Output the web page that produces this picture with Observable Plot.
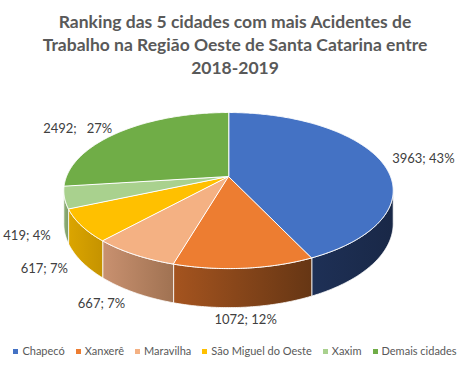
<!DOCTYPE html>
<html><head><meta charset="utf-8">
<script src="https://cdn.jsdelivr.net/npm/d3@7"></script>
<script src="https://cdn.jsdelivr.net/npm/@observablehq/plot@0.6"></script>
<style>
html,body{margin:0;padding:0;background:#fff;}
#wrap{position:relative;width:470px;height:368px;overflow:hidden;font-family:Lato,"Open Sans",sans-serif;}
#chart svg{position:absolute;left:0;top:0;}
#title{position:absolute;left:0;top:10px;width:470px;text-align:center;font-weight:700;font-size:17.5px;line-height:23px;color:#595959;}
#legend{position:absolute;left:0;top:343px;width:470px;display:flex;justify-content:center;gap:11px;font-size:11px;color:#595959;line-height:16px;white-space:nowrap;}
#legend span.sw{display:inline-block;width:5px;height:5px;margin-right:4px;vertical-align:middle;position:relative;top:-1px;}
</style></head>
<body><div id="wrap"><div id="chart"></div>
<div id="title">Ranking das 5 cidades com mais Acidentes de<br>Trabalho na Região Oeste de Santa Catarina entre<br>2018-2019</div>
<div id="legend"></div></div>
<script>
const cities = ["Chapecó", "Xanxerê", "Maravilha", "São Miguel do Oeste", "Xaxim", "Demais cidades"];
const values = [3963, 1072, 667, 617, 419, 2492];
const percents = ["43%", "12%", "7%", "7%", "4%", "27%"];
const separators = ["; ", "; ", "; ", "; ", "; ", "; \u00a0\u00a0"];
const topColors = ["#4472C4", "#ED7D31", "#F4B183", "#FFC000", "#A9D18E", "#70AD47"];
const wallLight = ["#1E3056", "#A5541F", "#C99170", "#DBA500", "#8FB077", "#5C8E3A"];
const wallDark  = ["#192847", "#663614", "#A07252", "#C59300", "#7E9D69", "#4F7B31"];

const P = 0.18;      // perspective
const H = 0.424;     // thickness (in radius units of y)
const proj = (t, r, dz = 0) => {
  const s = 1 / (1 - P * r * Math.sin(t));
  return [r * Math.cos(t) * s, r * Math.sin(t) * s + dz * s];
};
const arcs = d3.pie().sort(null)(values);
const T1 = Math.asin(P), T2 = Math.PI - Math.asin(P);
const step = Math.PI / 360;

const tops = [], walls = [], labels = [];
arcs.forEach((a, i) => {
  const a0 = a.startAngle - Math.PI / 2, a1 = a.endAngle - Math.PI / 2;
  tops.push({key: i, u: 0, v: 0, fill: topColors[i]});
  const n = Math.max(2, Math.ceil((a1 - a0) / step));
  for (let k = 0; k <= n; k++) {
    const [u, v] = proj(a0 + (a1 - a0) * k / n, 1);
    tops.push({key: i, u, v, fill: topColors[i]});
  }
  // front wall
  const w0 = Math.max(a0, T1), w1 = Math.min(a1, T2);
  if (w0 < w1) {
    const m = Math.max(2, Math.ceil((w1 - w0) / step));
    const pts = [];
    for (let k = 0; k <= m; k++) { const [u, v] = proj(w0 + (w1 - w0) * k / m, 1); pts.push({key: i, u, v, fill: `url(#wg${i})`}); }
    for (let k = m; k >= 0; k--) { const [u, v] = proj(w0 + (w1 - w0) * k / m, 1, H); pts.push({key: i, u, v, fill: `url(#wg${i})`}); }
    walls.push(...pts);
  }
  // label
  const tm = (a0 + a1) / 2;
  const [lu, lv0] = proj(tm, 1.08);
  const s = 1 / (1 - P * 1.08 * Math.sin(tm));
  const lv = Math.sin(tm) > 0 ? lv0 + H * s + 0.04 : lv0;
  const c = Math.cos(tm);
  labels.push({u: lu, v: lv, text: values[i] + separators[i] + percents[i],
    anchor: c > 0.3 ? "start" : c < -0.3 ? "end" : "middle"});
});

const lab = (anchor) => Plot.text(labels.filter(d => d.anchor === anchor), {
  x: "u", y: "v", text: "text", textAnchor: anchor, fill: "#404040",
  fontSize: 13, fontFamily: "Lato, 'Open Sans', sans-serif", lineAnchor: "middle"
});

const svg = Plot.plot({
  width: 470, height: 368, margin: 0,
  x: {domain: [-228 / 162, 242 / 162], range: [0, 470], axis: null},
  y: {domain: [-176 / 75.5, 192 / 75.5], range: [0, 368], axis: null},
  color: {type: "identity"},
  style: {background: "transparent", overflow: "visible"},
  marks: [
    Plot.line(walls, {x: "u", y: "v", z: "key", fill: "fill", stroke: "#ffffff", strokeWidth: 0.8, curve: "linear-closed"}),
    Plot.line(tops, {x: "u", y: "v", z: "key", fill: "fill", stroke: "#ffffff", strokeWidth: 1, curve: "linear-closed"}),
    lab("start"), lab("end"), lab("middle")
  ]
});
const defs = d3.select(svg).insert("defs", ":first-child");
cities.forEach((c, i) => {
  const g = defs.append("linearGradient").attr("id", `wg${i}`).attr("x1", 0).attr("y1", 0).attr("x2", 1).attr("y2", 0);
  g.append("stop").attr("offset", "0%").attr("stop-color", wallLight[i]);
  g.append("stop").attr("offset", "100%").attr("stop-color", wallDark[i]);
});
document.getElementById("chart").appendChild(svg);

const leg = d3.select("#legend");
cities.forEach((c, i) => {
  const it = leg.append("div");
  it.append("span").attr("class", "sw").style("background", topColors[i]);
  it.append("span").text(c);
});
</script></body></html>
